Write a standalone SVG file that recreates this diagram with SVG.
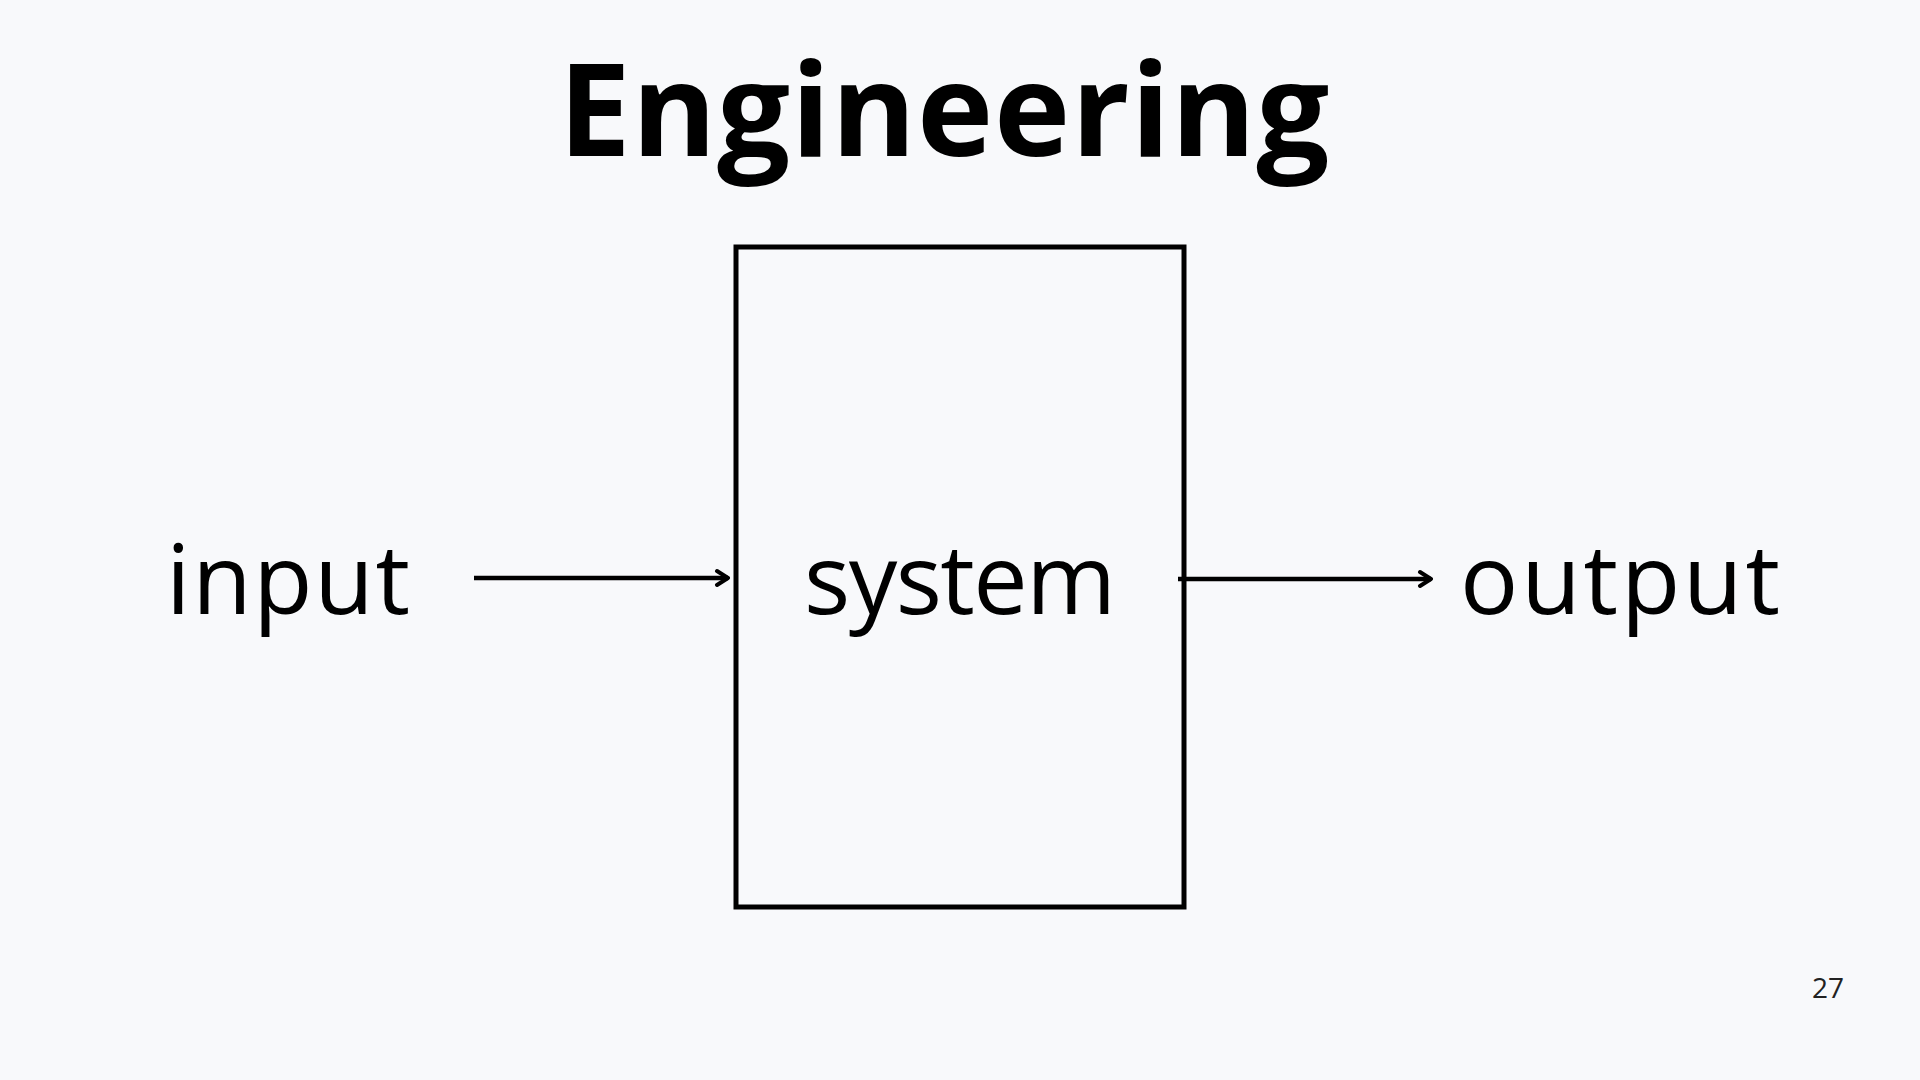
<svg xmlns="http://www.w3.org/2000/svg" width="1920" height="1080" viewBox="0 0 1920 1080">
<defs>
<style>
.title{font-family:"Open Sans","Noto Sans","Liberation Sans",sans-serif;font-weight:700;font-size:129px;fill:#000}
.lbl{font-family:"Open Sans","Noto Sans","Liberation Sans",sans-serif;font-weight:400;font-size:97px;fill:#000}
.pg{font-family:"Open Sans","Noto Sans","Liberation Sans",sans-serif;font-size:28px;fill:#222}
.box{fill:none;stroke:#000;stroke-width:5}
.conn{fill:none;stroke:#000;stroke-width:4.5}
</style>
<marker id="arr" viewBox="-14 -10 16 20" refX="0" refY="0" markerWidth="16" markerHeight="20" markerUnits="userSpaceOnUse" orient="auto">
<path d="M-11,-7 L0,0 L-11,7" fill="none" stroke="#000" stroke-width="4" stroke-linecap="round" stroke-linejoin="round"/>
</marker>
</defs>
<rect width="1920" height="1080" fill="#F8F9FB"/>
<text class="title" x="944" y="156" text-anchor="middle" textLength="771">Engineering</text>
<g id="node-input">
<text class="lbl" x="166" y="614" textLength="244">input</text>
</g>
<g id="node-system">
<rect class="box" x="736" y="247" width="448" height="660"/>
<text class="lbl" x="960" y="614" text-anchor="middle" textLength="312">system</text>
</g>
<g id="node-output">
<text class="lbl" x="1460" y="614" textLength="320">output</text>
</g>
<g id="connectors">
<line class="conn" x1="474" y1="578" x2="728" y2="578" marker-end="url(#arr)"/>
<line class="conn" x1="1178" y1="579" x2="1431" y2="579" marker-end="url(#arr)"/>
</g>
<text class="pg" x="1812" y="998">27</text>
</svg>
